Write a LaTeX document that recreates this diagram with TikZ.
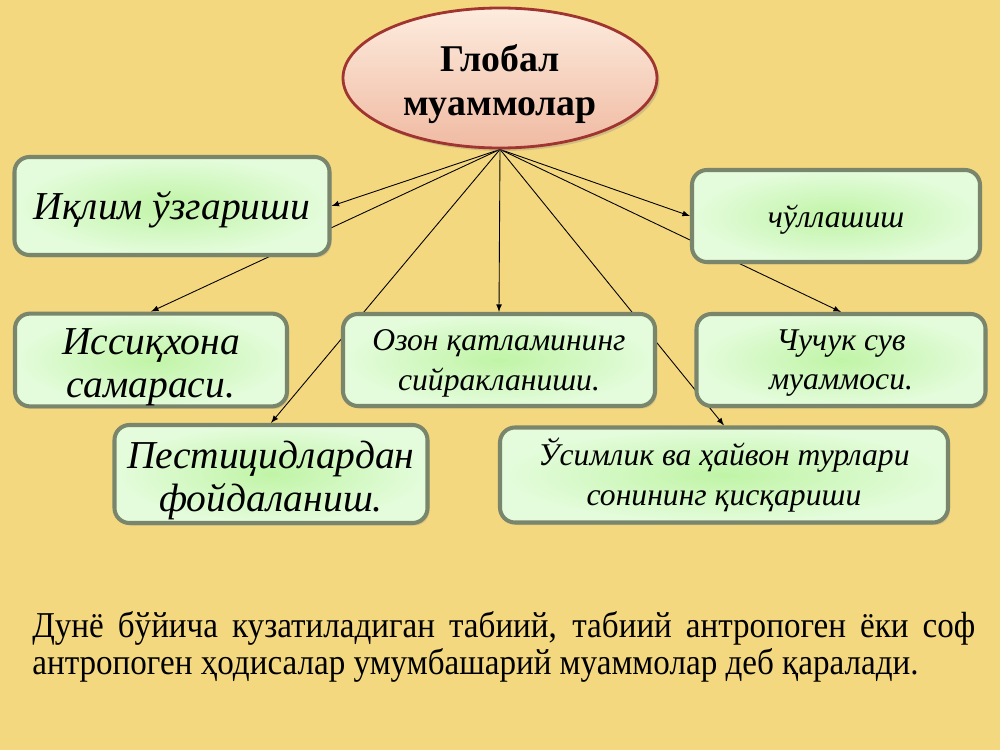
\documentclass[tikz,border=0pt]{standalone}
\usepackage{fontspec}
\setmainfont{Liberation Serif}
\newfontfamily\narrowserif[FakeStretch=0.91]{Liberation Serif}
\usetikzlibrary{backgrounds,shadows,shapes.geometric}

\definecolor{slidebg}{RGB}{243,216,128}
\definecolor{boxline}{RGB}{122,134,108}
\definecolor{boxgreen}{RGB}{192,244,166}
\definecolor{boxpale}{RGB}{228,252,220}
\definecolor{ovalline}{RGB}{160,52,48}
\definecolor{ovaltop}{RGB}{253,236,222}
\definecolor{ovalbottom}{RGB}{240,186,162}

\begin{document}
\begin{tikzpicture}[
  problem/.style={shape=rectangle, rounded corners=0.3cm, draw=boxline, line width=2.3pt,
    inner color=boxgreen, outer color=boxpale, align=center, inner sep=0pt,
    drop shadow={shadow xshift=0.04cm, shadow yshift=-0.05cm, opacity=0.25}},
  bigtext/.style={font=\fontsize{22.5}{25}\selectfont\itshape},
  smalltext/.style={font=\fontsize{18}{22.5}\selectfont\itshape},
  bigpair/.style={text height=48pt},
  smallpair/.style={text height=38pt},
  link/.style={-latex, line width=0.5pt}]
\useasboundingbox (0,0) rectangle (20,15);

% top oval
\node[shape=ellipse, draw=ovalline, line width=1.6pt, top color=ovaltop, bottom color=ovalbottom,
  minimum width=6.28cm, minimum height=2.8cm, inner sep=0pt,
  drop shadow={shadow xshift=0.05cm, shadow yshift=-0.06cm, opacity=0.3}]
  (oval) at (10,13.44) {};
\node[align=center, inner sep=0pt, font=\fontsize{21.5}{25.5}\selectfont\bfseries]
  (ovaltext) at (10,13.32) {Глобал\\муаммолар};

% problem boxes
\node[problem, bigtext, text height=20.5pt, minimum width=6.3cm, minimum height=1.96cm] (iqlim) at (3.44,10.88) {Иқлим ўзгариши};
\node[problem, smalltext, text height=17pt, minimum width=5.76cm, minimum height=1.84cm] (chul) at (16.72,10.68) {чўллашиш};
\node[problem, bigtext, bigpair, minimum width=5.44cm, minimum height=1.8cm] (issiq) at (3.02,7.8) {Иссиқхона\\самараси.};
\node[problem, smalltext, smallpair, minimum width=6.24cm, minimum height=1.84cm] (ozon) at (9.98,7.8) {Озон қатламининг\\сийракланиши.};
\node[problem, smalltext, smallpair, minimum width=5.78cm, minimum height=1.84cm] (suv) at (16.82,7.8) {Чучук сув\\муаммоси.};
\node[problem, bigtext, bigpair, minimum width=6.26cm, minimum height=1.96cm] (pest) at (5.42,5.52) {Пестицидлардан\\фойдаланиш.};
\node[problem, smalltext, smallpair, minimum width=8.96cm, minimum height=1.9cm] (tur) at (14.48,5.5) {Ўсимлик ва ҳайвон турлари\\сонининг қисқариши};

% caption
\node[anchor=north west, text width=18.86cm, align=justify, inner sep=0pt,
  font=\narrowserif\fontsize{20.7}{21}\selectfont] (izoh) at (0.64,2.78)
  {Дунё бўйича кузатиладиган табиий, табиий антропоген ёки соф\linebreak
   антропоген ҳодисалар умумбашарий муаммолар деб қаралади.};

\begin{scope}[on background layer]
\fill[slidebg] (0,0) rectangle (20,15);
\foreach \target in {iqlim.east, chul.west, issiq.north, ozon.north, suv.north, pest.north, tur.north}
  \draw[link] (oval.south) -- (\target);
\end{scope}
\end{tikzpicture}
\end{document}
